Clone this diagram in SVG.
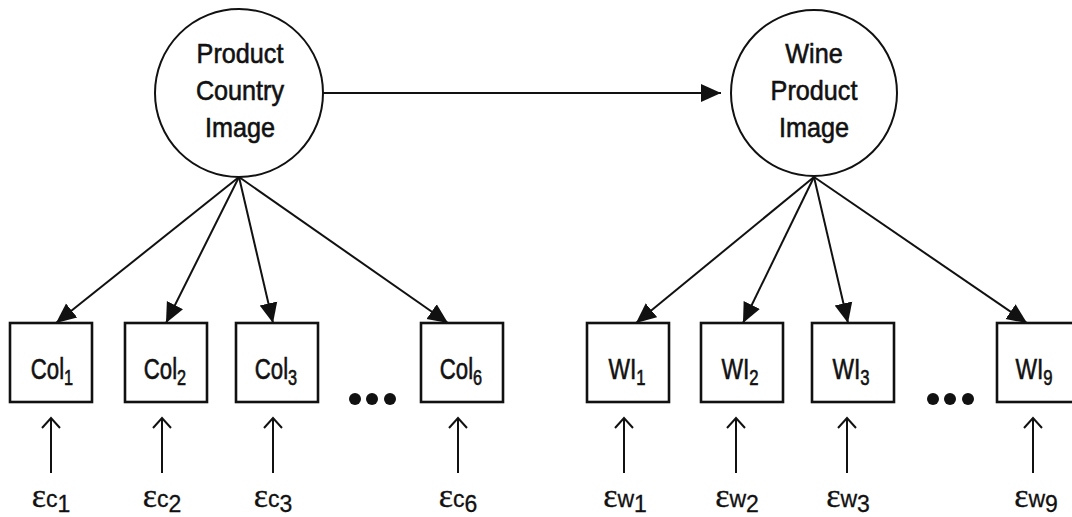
<svg xmlns="http://www.w3.org/2000/svg" width="1072" height="517" viewBox="0 0 1072 517">
  <style>
    .latent { fill: #fff; stroke: #111; stroke-width: 2; }
    .obs { fill: #fff; stroke: #111; stroke-width: 2.6; }
    .edge { stroke: #111; stroke-width: 2; fill: none; }
    .err { stroke: #111; stroke-width: 2; fill: none; }
    .lbl { font-family: "Liberation Sans", Arial, sans-serif; font-size: 28px; fill: #111; stroke: #111; stroke-width: 0.6px; text-anchor: middle; }
    .box { font-size: 30px; }
    .sub { font-size: 22px; }
    .eps { font-family: "Liberation Sans", Arial, sans-serif; font-size: 23px; fill: #111; stroke: #111; stroke-width: 0.3px; text-anchor: middle; }
    .epsg { font-family: "Liberation Serif", "Times New Roman", serif; font-size: 34px; }
    .dot { fill: #111; }
  </style>
  <defs>
    <marker id="head" markerUnits="userSpaceOnUse" markerWidth="22" markerHeight="20" viewBox="0 -10 22 20" refX="20" refY="0" orient="auto">
      <path d="M0,-9 L20,0 L0,9 z" fill="#111"/>
    </marker>
  </defs>

  <rect width="1072" height="517" fill="#fff"/>

  <!-- connectors -->
  <g id="connectors">
    <line class="edge" x1="323" y1="93" x2="721" y2="93" stroke-width="2.4" marker-end="url(#head)"/>
    <!-- loadings of Product Country Image -->
    <line class="edge" x1="239" y1="177" x2="56" y2="323" marker-end="url(#head)"/>
    <line class="edge" x1="239" y1="177" x2="166" y2="323" marker-end="url(#head)"/>
    <line class="edge" x1="239" y1="177" x2="273" y2="323" marker-end="url(#head)"/>
    <line class="edge" x1="239" y1="177" x2="448" y2="323" marker-end="url(#head)"/>
    <!-- loadings of Wine Product Image -->
    <line class="edge" x1="814" y1="177" x2="636" y2="323" marker-end="url(#head)"/>
    <line class="edge" x1="814" y1="177" x2="743" y2="323" marker-end="url(#head)"/>
    <line class="edge" x1="814" y1="177" x2="848" y2="323" marker-end="url(#head)"/>
    <line class="edge" x1="814" y1="177" x2="1027" y2="323" marker-end="url(#head)"/>
    <!-- error terms -->
    <path class="err" d="M51,473 V418 M42,428 L51,418 L60,428"/>
    <path class="err" d="M162,473 V418 M153,428 L162,418 L171,428"/>
    <path class="err" d="M273,473 V418 M264,428 L273,418 L282,428"/>
    <path class="err" d="M458,473 V418 M449,428 L458,418 L467,428"/>
    <path class="err" d="M624,473 V418 M615,428 L624,418 L633,428"/>
    <path class="err" d="M736,473 V418 M727,428 L736,418 L745,428"/>
    <path class="err" d="M847,473 V418 M838,428 L847,418 L856,428"/>
    <path class="err" d="M1033,473 V418 M1024,428 L1033,418 L1042,428"/>
  </g>

  <!-- latent variables -->
  <g id="pci">
    <circle class="latent" cx="239" cy="93" r="84"/>
    <g transform="translate(240,0) scale(0.9,1)">
      <text class="lbl" x="0" y="63">Product</text>
      <text class="lbl" x="0" y="100">Country</text>
      <text class="lbl" x="0" y="137">Image</text>
    </g>
  </g>
  <g id="wpi">
    <circle class="latent" cx="814" cy="93" r="83"/>
    <g transform="translate(814,0) scale(0.9,1)">
      <text class="lbl" x="0" y="63">Wine</text>
      <text class="lbl" x="0" y="100">Product</text>
      <text class="lbl" x="0" y="137">Image</text>
    </g>
  </g>

  <!-- indicators: country image -->
  <g id="coi1">
    <rect class="obs" x="10" y="323" width="82" height="79"/>
    <text class="lbl box" transform="translate(52,379) scale(0.74,1)">Col<tspan class="sub" dy="6">1</tspan></text>
  </g>
  <g id="coi2">
    <rect class="obs" x="125" y="323" width="82" height="79"/>
    <text class="lbl box" transform="translate(165,379) scale(0.74,1)">Col<tspan class="sub" dy="6">2</tspan></text>
  </g>
  <g id="coi3">
    <rect class="obs" x="236" y="323" width="82" height="79"/>
    <text class="lbl box" transform="translate(276,379) scale(0.74,1)">Col<tspan class="sub" dy="6">3</tspan></text>
  </g>
  <g id="coi-more">
    <circle class="dot" cx="355" cy="399" r="6"/>
    <circle class="dot" cx="372" cy="399" r="6"/>
    <circle class="dot" cx="390" cy="399" r="6"/>
  </g>
  <g id="coi6">
    <rect class="obs" x="421" y="323" width="82" height="79"/>
    <text class="lbl box" transform="translate(461,379) scale(0.74,1)">Col<tspan class="sub" dy="6">6</tspan></text>
  </g>

  <!-- indicators: wine image -->
  <g id="wi1">
    <rect class="obs" x="587" y="323" width="82" height="79"/>
    <text class="lbl box" transform="translate(627,379) scale(0.76,1)">WI<tspan class="sub" dy="6">1</tspan></text>
  </g>
  <g id="wi2">
    <rect class="obs" x="701" y="323" width="82" height="79"/>
    <text class="lbl box" transform="translate(740,379) scale(0.76,1)">WI<tspan class="sub" dy="6">2</tspan></text>
  </g>
  <g id="wi3">
    <rect class="obs" x="812" y="323" width="82" height="79"/>
    <text class="lbl box" transform="translate(851,379) scale(0.76,1)">WI<tspan class="sub" dy="6">3</tspan></text>
  </g>
  <g id="wi-more">
    <circle class="dot" cx="933" cy="399" r="6"/>
    <circle class="dot" cx="950" cy="399" r="6"/>
    <circle class="dot" cx="968" cy="399" r="6"/>
  </g>
  <g id="wi9">
    <rect class="obs" x="997" y="323" width="82" height="79"/>
    <text class="lbl box" transform="translate(1034,379) scale(0.76,1)">WI<tspan class="sub" dy="6">9</tspan></text>
  </g>

  <!-- error terms -->
  <g id="errors">
    <text class="eps" x="51" y="507"><tspan class="epsg">ε</tspan>c<tspan dy="5">1</tspan></text>
    <text class="eps" x="162" y="507"><tspan class="epsg">ε</tspan>c<tspan dy="5">2</tspan></text>
    <text class="eps" x="273" y="507"><tspan class="epsg">ε</tspan>c<tspan dy="5">3</tspan></text>
    <text class="eps" x="458" y="507"><tspan class="epsg">ε</tspan>c<tspan dy="5">6</tspan></text>
    <text class="eps" x="625" y="507"><tspan class="epsg">ε</tspan>w<tspan dy="5">1</tspan></text>
    <text class="eps" x="737" y="507"><tspan class="epsg">ε</tspan>w<tspan dy="5">2</tspan></text>
    <text class="eps" x="848" y="507"><tspan class="epsg">ε</tspan>w<tspan dy="5">3</tspan></text>
    <text class="eps" x="1036" y="507"><tspan class="epsg">ε</tspan>w<tspan dy="5">9</tspan></text>
  </g>
</svg>
